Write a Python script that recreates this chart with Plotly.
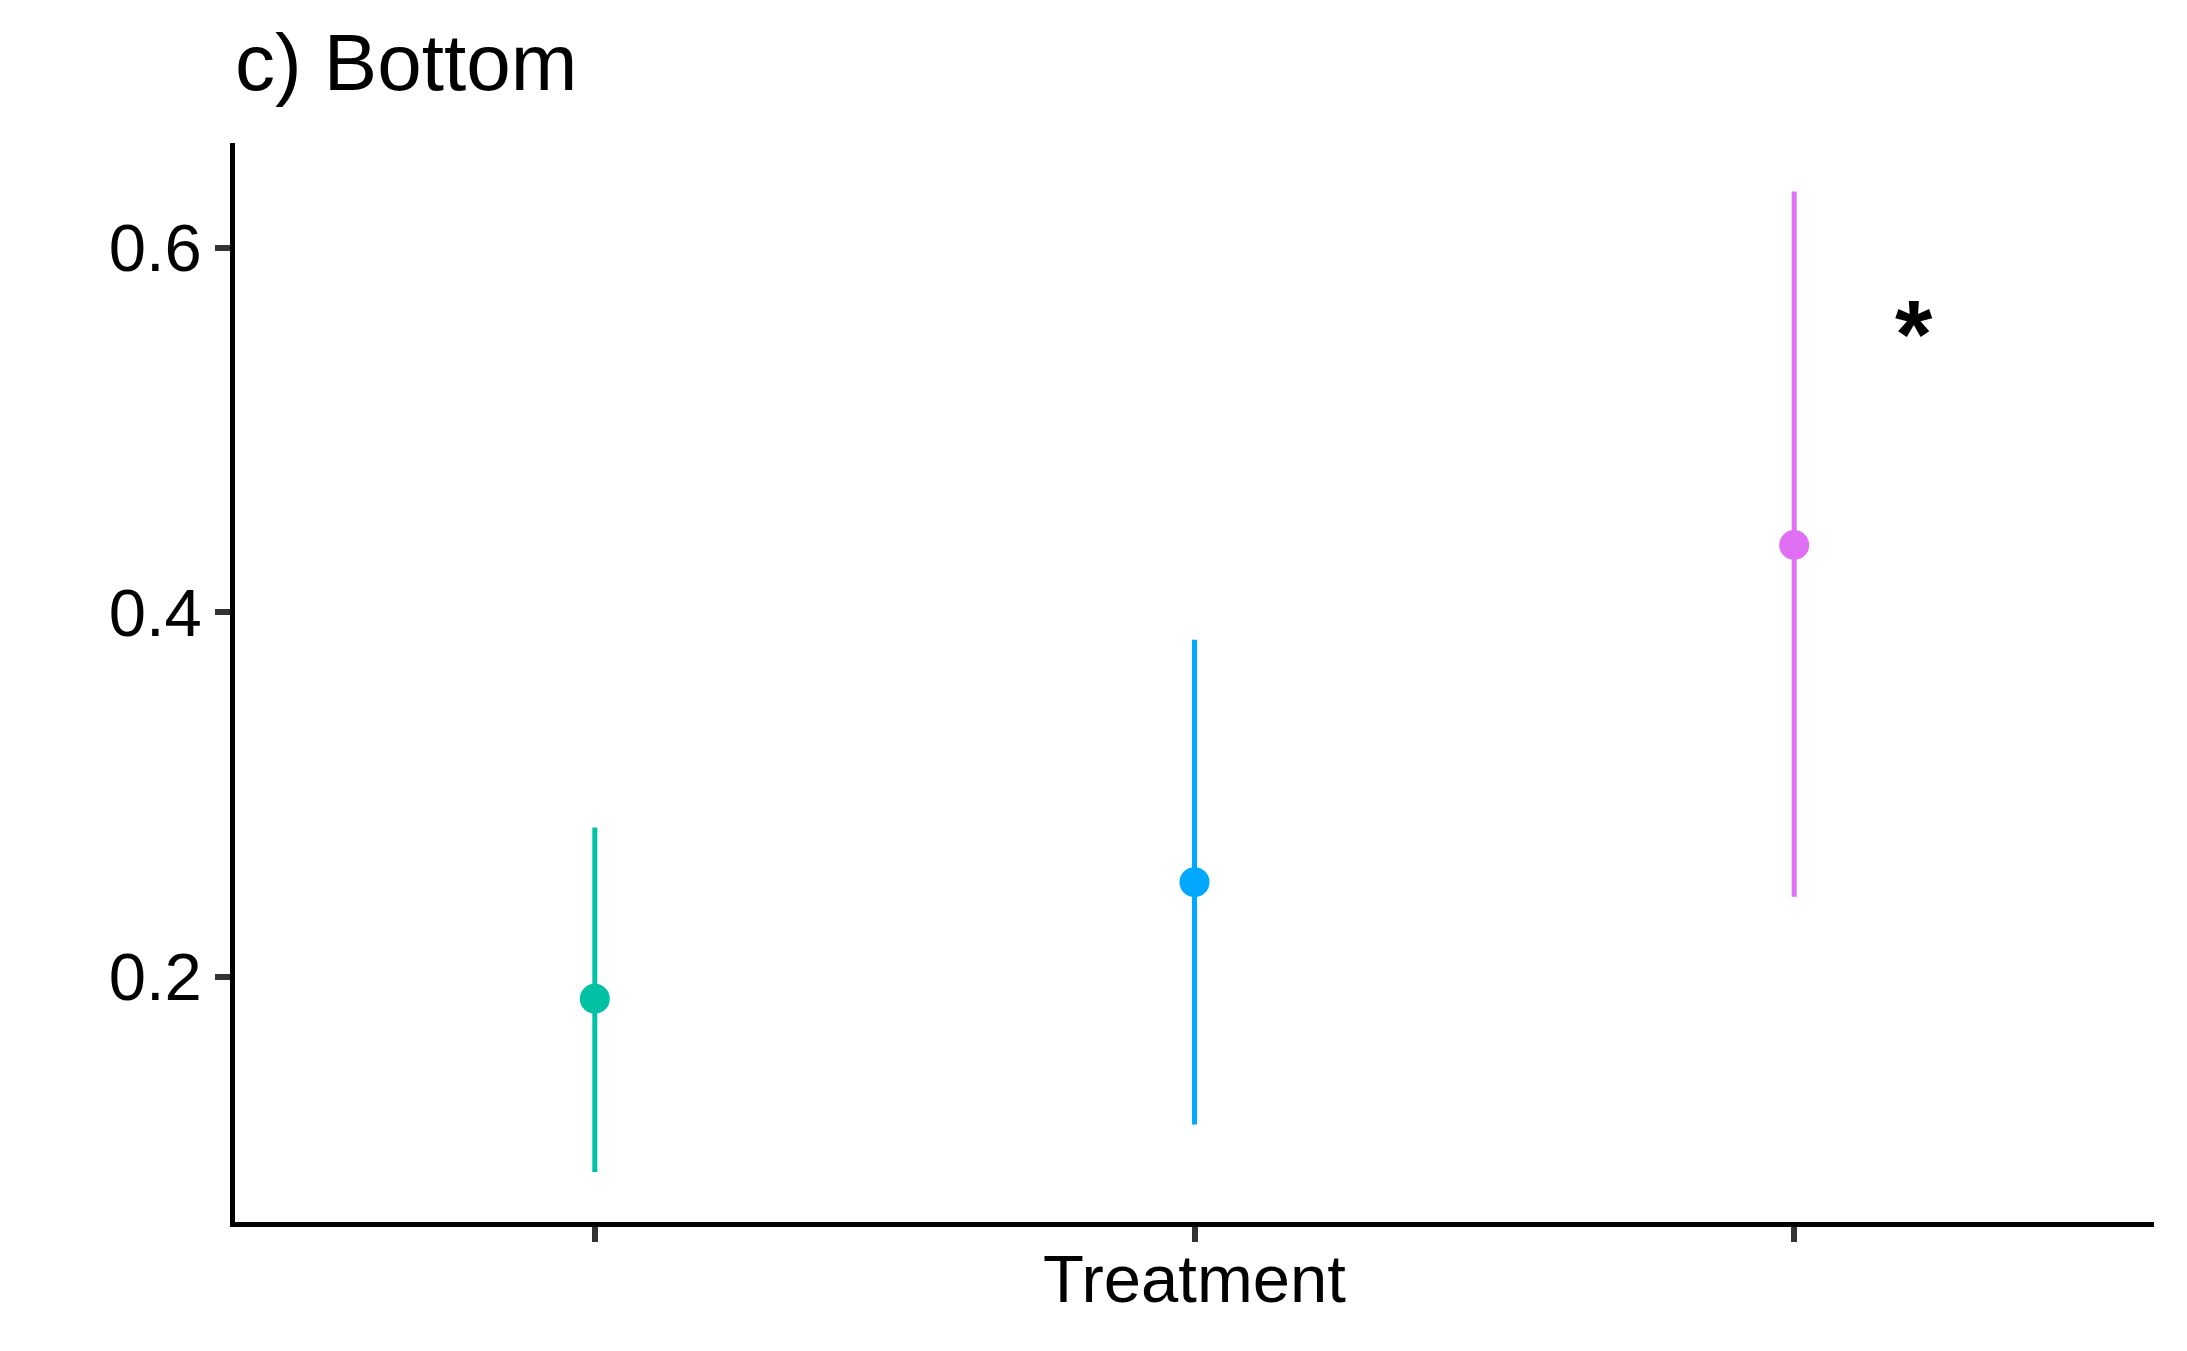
import plotly.graph_objects as go

# treatment levels (tick labels are blank in the original)
treatments = ["A", "B", "C"]
means = [0.188, 0.252, 0.437]
lower = [0.093, 0.119, 0.244]
upper = [0.282, 0.385, 0.631]
point_colors = ["#00C1A3", "#00A9FF", "#E070F3"]

# significance mark next to the third treatment
star_label = "<b>*</b>"
star_x = 2.2
star_y = 0.553

fig = go.Figure()

for i in range(len(treatments)):
    fig.add_trace(go.Scatter(
        x=[treatments[i]], y=[means[i]], mode="markers",
        marker=dict(color=point_colors[i], size=30),
        error_y=dict(type="data", symmetric=False,
                     array=[upper[i] - means[i]], arrayminus=[means[i] - lower[i]],
                     color=point_colors[i], thickness=5, width=0),
        showlegend=False
    ))

fig.add_annotation(x=star_x, y=star_y, text=star_label, showarrow=False,
                   font=dict(size=96, color="black", family="Liberation Sans"),
                   xanchor="center", yanchor="middle")

fig.add_annotation(x=0.5, y=-0.0528, xref="paper", yref="paper", text="Treatment",
                   showarrow=False, font=dict(size=67, color="black"),
                   xanchor="center", yanchor="middle")

# the page body adds an 8px offset, so the figure is a bit smaller than the window
fig.update_layout(
    width=2171, height=1335,
    margin=dict(l=227, r=25, t=135, b=121),
    paper_bgcolor="white", plot_bgcolor="white",
    font=dict(family="Liberation Sans", size=67, color="black"),
    title=dict(text="c) Bottom", x=0.0, xref="paper", xanchor="left",
               y=1 - 54 / 1335, yref="container", yanchor="middle",
               font=dict(size=80, color="black")),
)

fig.update_xaxes(range=[-0.6, 2.6], showline=True, linecolor="black", linewidth=4.5,
                 ticks="outside", ticklen=15, tickwidth=5.5, tickcolor="#333333",
                 showticklabels=False, showgrid=False, zeroline=False)
fig.update_yaxes(range=[0.0655, 0.6576], showline=True, linecolor="black", linewidth=4.5,
                 ticks="outside", ticklen=15, tickwidth=5.5, tickcolor="#333333",
                 tickvals=[0.2, 0.4, 0.6], ticktext=["0.2", "0.4", "0.6"],
                 showgrid=False, zeroline=False)

fig.write_html("out.html")
